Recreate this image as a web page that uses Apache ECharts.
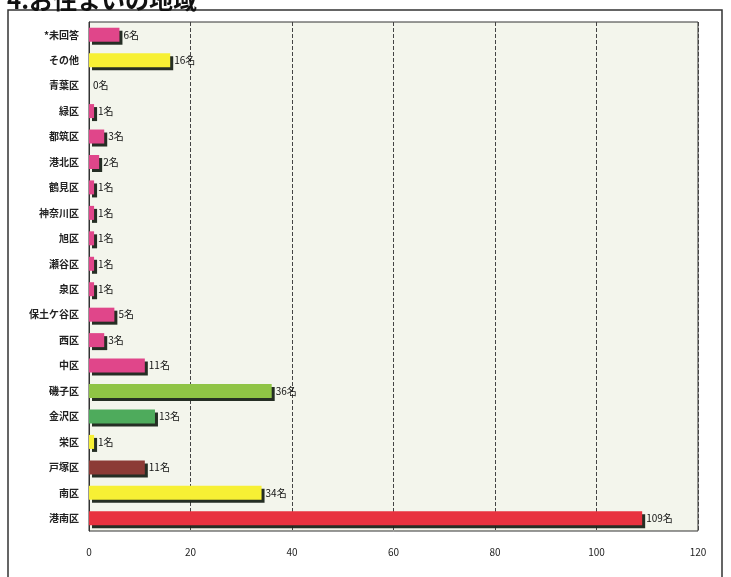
<!DOCTYPE html>
<html>
<head>
<meta charset="utf-8">
<script src="https://cdn.jsdelivr.net/npm/echarts@6/dist/echarts.min.js"></script>
<style>
  html, body { margin: 0; padding: 0; background: #fff; }
  #main { width: 731px; height: 577px; }
</style>
</head>
<body>
<div id="main"></div>
<script>
// 区名（上から順）
const areas = ['*未回答', 'その他', '青葉区', '緑区', '都筑区', '港北区', '鶴見区', '神奈川区', '旭区', '瀬谷区',
  '泉区', '保土ケ谷区', '西区', '中区', '磯子区', '金沢区', '栄区', '戸塚区', '南区', '港南区'];
// 人数
const counts = [6, 16, 0, 1, 3, 2, 1, 1, 1, 1, 1, 5, 3, 11, 36, 13, 1, 11, 34, 109];
// 棒の色
const barColors = ['#e0468a', '#f7f034', '#e0468a', '#e0468a', '#e0468a', '#e0468a', '#e0468a', '#e0468a', '#e0468a', '#e0468a',
  '#e0468a', '#e0468a', '#e0468a', '#e0468a', '#8fc445', '#4eab5c', '#f7f034', '#8c3b36', '#f7f034', '#e8323f'];
const xTicks = [0, 20, 40, 60, 80, 100, 120];

const chart = echarts.init(document.getElementById('main'));

chart.setOption({
  backgroundColor: '#fff',
  animation: false,
  title: {
    text: '4.お住まいの地域',
    left: 2,
    top: -17,
    textStyle: { fontSize: 24, fontWeight: 'bold', color: '#111', fontFamily: 'Noto Sans CJK JP' }
  },
  graphic: [{
    type: 'rect',
    shape: { x: 8, y: 10, width: 714, height: 580 },
    style: { fill: 'none', stroke: '#333', lineWidth: 1.5 },
    z: -1
  }],
  grid: {
    left: 89,
    right: 33,
    top: 22,
    bottom: 46,
    show: true,
    backgroundColor: '#f3f5ec',
    borderColor: '#333',
    borderWidth: 1
  },
  xAxis: {
    type: 'value',
    min: 0,
    max: xTicks[xTicks.length - 1],
    interval: 20,
    axisLine: { show: false },
    axisTick: { show: false },
    axisLabel: {
      margin: 16,
      fontSize: 10,
      color: '#222',
      fontFamily: 'Noto Sans CJK JP'
    },
    splitLine: { show: true, lineStyle: { color: '#444', type: 'dashed', width: 1 } }
  },
  yAxis: {
    type: 'category',
    inverse: true,
    data: areas,
    axisLine: { show: true, lineStyle: { color: '#333' } },
    axisTick: { show: false },
    axisLabel: {
      margin: 10,
      fontSize: 10,
      fontWeight: 'bold',
      color: '#222',
      fontFamily: 'Noto Sans CJK JP'
    }
  },
  series: [{
    type: 'bar',
    data: counts.map((v, i) => ({ value: v, itemStyle: { color: barColors[i] } })),
    barWidth: 14,
    itemStyle: {
      shadowColor: 'rgba(25,35,25,0.95)',
      shadowOffsetX: 3,
      shadowOffsetY: 3
    },
    label: {
      show: true,
      position: 'right',
      distance: 4,
      formatter: '{c}名',
      fontSize: 10,
      color: '#111',
      fontFamily: 'Noto Sans CJK JP'
    }
  }]
});
</script>
</body>
</html>
